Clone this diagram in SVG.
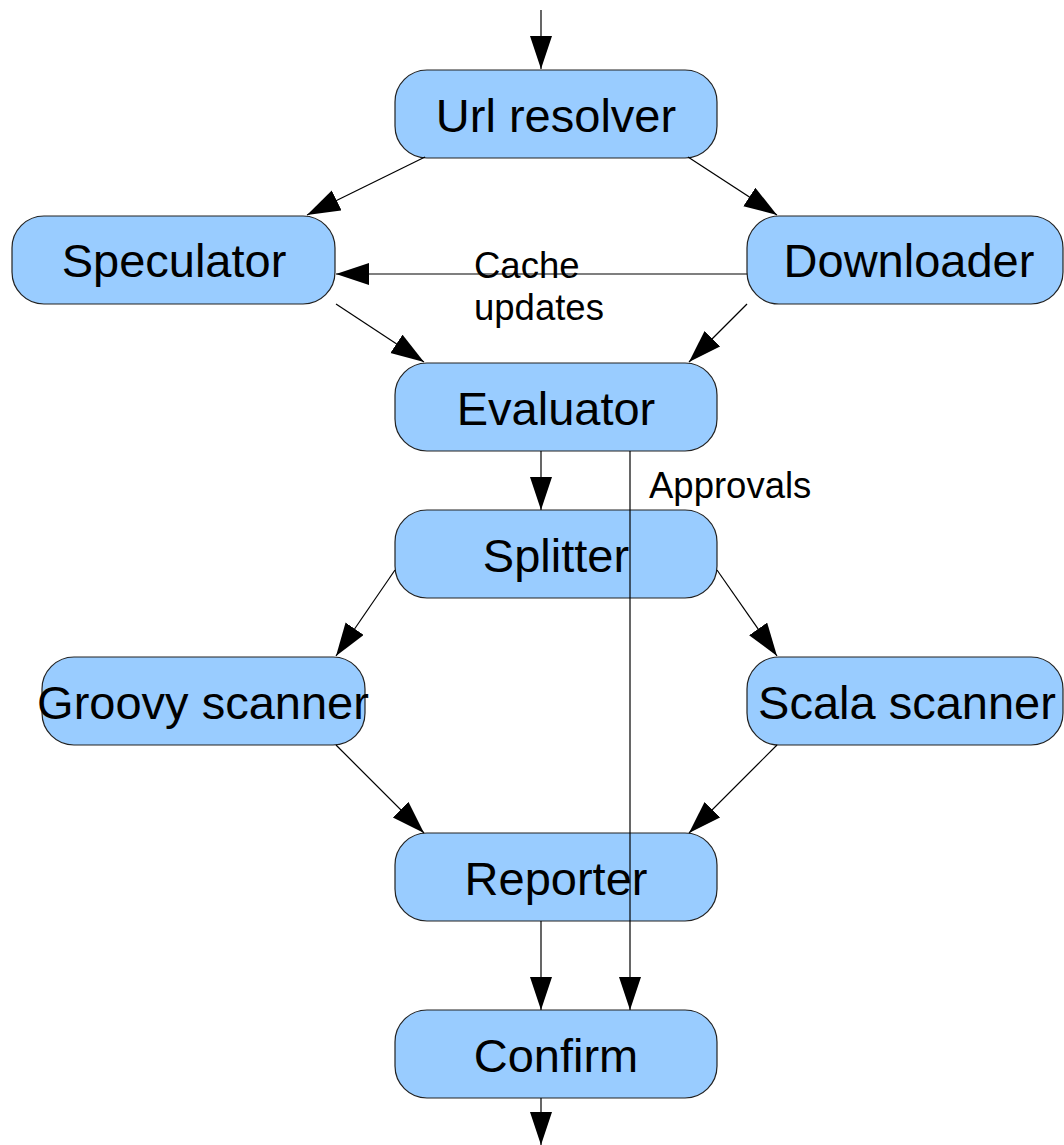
<svg xmlns="http://www.w3.org/2000/svg" width="1064" height="1145" viewBox="0 0 1064 1145">
<style>
.node rect{fill:#99ccff;stroke:#222;stroke-width:1.2}
.node text{font-family:"Liberation Sans",Arial,sans-serif;font-size:47px;fill:#000;text-anchor:middle}
.conn line{stroke:#000;stroke-width:1.2;marker-end:url(#ah)}
.lbl{font-family:"Liberation Sans",Arial,sans-serif;font-size:36.5px;fill:#000}
</style>
<defs>
<marker id="ah" markerUnits="userSpaceOnUse" markerWidth="35" markerHeight="24" refX="33" refY="11" orient="auto">
<path d="M0,0 L33,11 L0,22 z" fill="#000"/>
</marker>
</defs>
<rect width="1064" height="1145" fill="#fff"/>
<g id="url-resolver" class="node"><rect x="395" y="70" width="322" height="88" rx="32"/><text x="556" y="132">Url resolver</text></g>
<g id="speculator" class="node"><rect x="12" y="216" width="323" height="88" rx="32"/><text x="174" y="277">Speculator</text></g>
<g id="downloader" class="node"><rect x="747" y="216" width="316" height="88" rx="32"/><text x="909" y="277">Downloader</text></g>
<g id="evaluator" class="node"><rect x="395" y="363" width="322" height="88" rx="32"/><text x="556" y="425">Evaluator</text></g>
<g id="splitter" class="node"><rect x="395" y="510" width="322" height="88" rx="32"/><text x="556" y="572">Splitter</text></g>
<g id="groovy-scanner" class="node"><rect x="42" y="657" width="323" height="88" rx="32"/><text x="203" y="719">Groovy scanner</text></g>
<g id="scala-scanner" class="node"><rect x="747" y="657" width="316" height="88" rx="32"/><text x="907" y="719">Scala scanner</text></g>
<g id="reporter" class="node"><rect x="395" y="833" width="322" height="88" rx="32"/><text x="556" y="895">Reporter</text></g>
<g id="confirm" class="node"><rect x="395" y="1010" width="322" height="88" rx="32"/><text x="556" y="1072">Confirm</text></g>
<g id="connectors" class="conn">
<line x1="541" y1="10" x2="541" y2="69"/>
<line x1="425" y1="157" x2="307" y2="215"/>
<line x1="688" y1="157" x2="777" y2="215"/>
<line x1="747" y1="274" x2="336" y2="274"/>
<line x1="336" y1="304" x2="424" y2="362"/>
<line x1="747" y1="304" x2="689" y2="362"/>
<line x1="541" y1="451" x2="541" y2="510"/>
<line x1="630" y1="451" x2="630" y2="1010"/>
<line x1="395" y1="570" x2="336" y2="656"/>
<line x1="717" y1="570" x2="777" y2="656"/>
<line x1="336" y1="745" x2="424" y2="833"/>
<line x1="777" y1="745" x2="689" y2="833"/>
<line x1="541" y1="921" x2="541" y2="1010"/>
<line x1="541" y1="1098" x2="541" y2="1145"/>
</g>
<text class="lbl" x="474" y="278">Cache</text>
<text class="lbl" x="474" y="320">updates</text>
<text class="lbl" x="649" y="498">Approvals</text>
</svg>
